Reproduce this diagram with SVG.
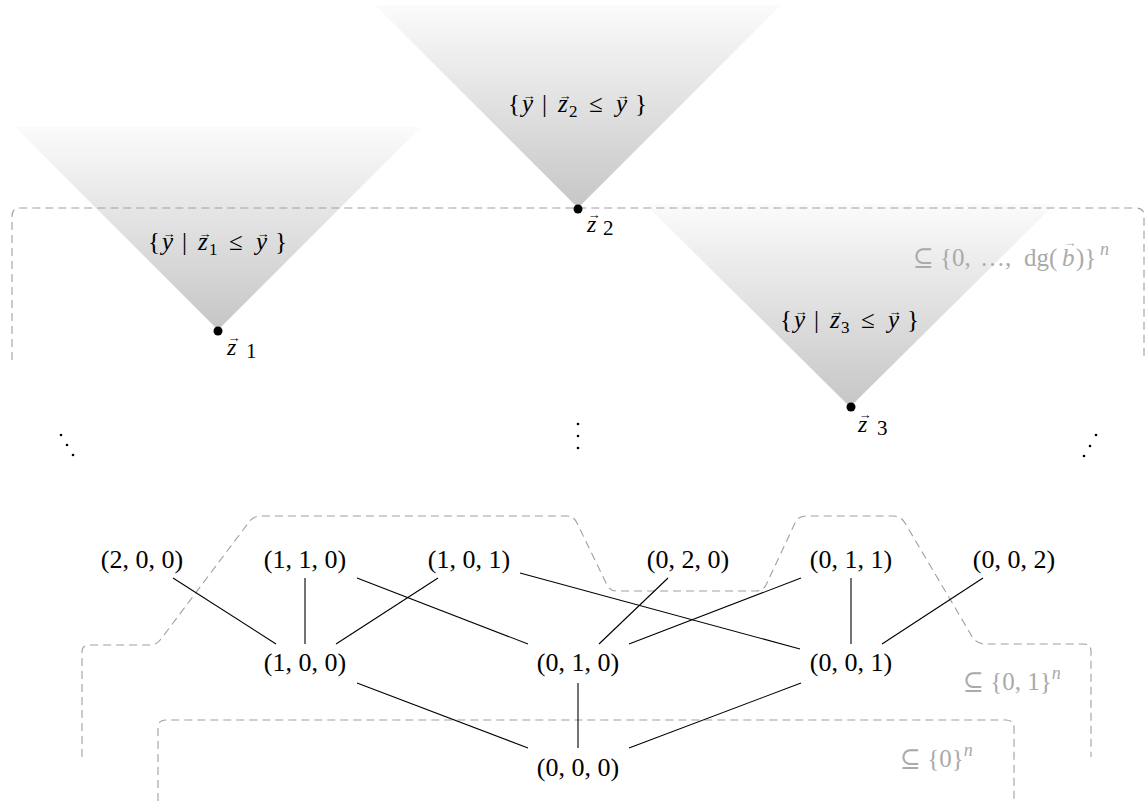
<svg xmlns="http://www.w3.org/2000/svg" width="1146" height="801" viewBox="0 0 1146 801">
<defs>
<linearGradient id="cone" x1="0" y1="0" x2="0" y2="1">
<stop offset="0" stop-color="#fbfbfb"/>
<stop offset="1" stop-color="#c6c6c6"/>
</linearGradient>
</defs>
<style>
text{font-family:"Liberation Serif","DejaVu Serif",serif;fill:#000}
.node{font-size:26px;text-anchor:middle}
.lbl{font-size:25px}
.gray{font-size:25px;fill:#aaaaaa}
.it{font-style:italic}
.arr{font-size:13px;text-anchor:middle}
.sub{font-size:17px}
.dash{fill:none;stroke:#9f9f9f;stroke-width:1.1;stroke-dasharray:8,5}
.edge{stroke:#000;stroke-width:1.1;fill:none}
.cone{fill:url(#cone)}
</style>
<rect width="1146" height="801" fill="#fff"/>
<g id="cones">
<g id="cone1"><polygon class="cone" points="15,127 421,127 218,330"/></g>
<g id="cone2"><polygon class="cone" points="375,5 781,5 578,208"/></g>
<g id="cone3"><polygon class="cone" points="645,204 1055,204 850,407"/></g>
</g>
<g id="regions">
<path class="dash" d="M12,360 V216 Q12,208 20,208 H1136 Q1144,208 1144,216 V358"/>
<path class="dash" d="M82,757 V652 Q82,645 90,645 H150 Q157,645 161,639 L249,522 Q253,516 261,516 H566 Q574,516 577,523 L607,585 Q610,591 617,591 H756 Q763,591 766,585 L795,523 Q798,516 806,516 H893 Q901,516 905,523 L970,633 Q975,644 985,644 H1084 Q1091,644 1091,651 V757"/>
<path class="dash" d="M158,801 V728 Q158,720 166,720 H1006 Q1014,720 1014,728 V801"/>
<g id="label-dg">
<text class="gray" y="266"><tspan x="913">⊆</tspan><tspan x="940">{0,</tspan><tspan x="980">…,</tspan><tspan x="1024">dg(</tspan><tspan x="1062" class="it">b</tspan><tspan x="1076">)}</tspan><tspan x="1100" class="it" font-size="18" dy="-11">n</tspan></text>
<text class="gray arr" x="1070" y="247">→</text>
</g>
<text class="gray" x="963" y="690">⊆ {0, 1}<tspan class="it" font-size="18" dy="-11">n</tspan></text>
<text class="gray" x="900" y="767">⊆ {0}<tspan class="it" font-size="18" dy="-11">n</tspan></text>
</g>
<g id="minima">
<g id="z1">
<circle cx="218" cy="331" r="4.5"/>
<text x="227" y="355" font-size="24" class="it">z</text><text class="arr" x="234" y="342">→</text><text x="246" y="358" font-size="21">1</text>
<g transform="translate(148,250)">
<text class="lbl"><tspan x="0">{</tspan><tspan x="14" class="it">y</tspan><tspan x="34">|</tspan><tspan x="50" class="it">z</tspan><tspan x="61" class="sub" dy="5">1</tspan><tspan x="81" dy="-5">≤</tspan><tspan x="108" class="it">y</tspan><tspan x="127">}</tspan></text>
<text class="arr" x="21" y="-12">→</text><text class="arr" x="57" y="-12">→</text><text class="arr" x="115" y="-12">→</text>
</g>
</g>
<g id="z2">
<circle cx="578" cy="209" r="4.5"/>
<text x="587" y="232" font-size="24" class="it">z</text><text class="arr" x="594" y="219">→</text><text x="603" y="235" font-size="21">2</text>
<g transform="translate(508,112)">
<text class="lbl"><tspan x="0">{</tspan><tspan x="14" class="it">y</tspan><tspan x="34">|</tspan><tspan x="50" class="it">z</tspan><tspan x="61" class="sub" dy="5">2</tspan><tspan x="81" dy="-5">≤</tspan><tspan x="108" class="it">y</tspan><tspan x="127">}</tspan></text>
<text class="arr" x="21" y="-12">→</text><text class="arr" x="57" y="-12">→</text><text class="arr" x="115" y="-12">→</text>
</g>
</g>
<g id="z3">
<circle cx="851" cy="407" r="4.5"/>
<text x="858" y="432" font-size="24" class="it">z</text><text class="arr" x="865" y="419">→</text><text x="877" y="435" font-size="21">3</text>
<g transform="translate(780,328)">
<text class="lbl"><tspan x="0">{</tspan><tspan x="14" class="it">y</tspan><tspan x="34">|</tspan><tspan x="50" class="it">z</tspan><tspan x="61" class="sub" dy="5">3</tspan><tspan x="81" dy="-5">≤</tspan><tspan x="108" class="it">y</tspan><tspan x="127">}</tspan></text>
<text class="arr" x="21" y="-12">→</text><text class="arr" x="57" y="-12">→</text><text class="arr" x="115" y="-12">→</text>
</g>
</g>
</g>
<g id="ellipses">
<circle cx="61" cy="435" r="1.3"/><circle cx="67" cy="445" r="1.3"/><circle cx="73" cy="455" r="1.3"/>
<circle cx="578" cy="424" r="1.3"/><circle cx="578" cy="436" r="1.3"/><circle cx="578" cy="448" r="1.3"/>
<circle cx="1096" cy="435" r="1.3"/><circle cx="1090" cy="446" r="1.3"/><circle cx="1084" cy="456" r="1.3"/>
</g>
<g id="connectors">
<line class="edge" x1="173" y1="578" x2="276" y2="644"/>
<line class="edge" x1="305" y1="578" x2="305" y2="644"/>
<line class="edge" x1="438" y1="578" x2="336" y2="644"/>
<line class="edge" x1="357" y1="578" x2="528" y2="644"/>
<line class="edge" x1="520" y1="573" x2="800" y2="649"/>
<line class="edge" x1="668" y1="578" x2="599" y2="644"/>
<line class="edge" x1="801" y1="578" x2="629" y2="644"/>
<line class="edge" x1="851" y1="578" x2="851" y2="644"/>
<line class="edge" x1="983" y1="578" x2="882" y2="644"/>
<line class="edge" x1="357" y1="683" x2="528" y2="748"/>
<line class="edge" x1="578" y1="683" x2="578" y2="748"/>
<line class="edge" x1="801" y1="683" x2="629" y2="748"/>
</g>
<g id="n200"><text class="node" x="142" y="568">(2, 0, 0)</text></g>
<g id="n110"><text class="node" x="305" y="568">(1, 1, 0)</text></g>
<g id="n101"><text class="node" x="469" y="568">(1, 0, 1)</text></g>
<g id="n020"><text class="node" x="688" y="568">(0, 2, 0)</text></g>
<g id="n011"><text class="node" x="851" y="568">(0, 1, 1)</text></g>
<g id="n002"><text class="node" x="1014" y="568">(0, 0, 2)</text></g>
<g id="n100"><text class="node" x="305" y="671">(1, 0, 0)</text></g>
<g id="n010"><text class="node" x="578" y="671">(0, 1, 0)</text></g>
<g id="n001"><text class="node" x="851" y="671">(0, 0, 1)</text></g>
<g id="n000"><text class="node" x="578" y="776">(0, 0, 0)</text></g>
</svg>
